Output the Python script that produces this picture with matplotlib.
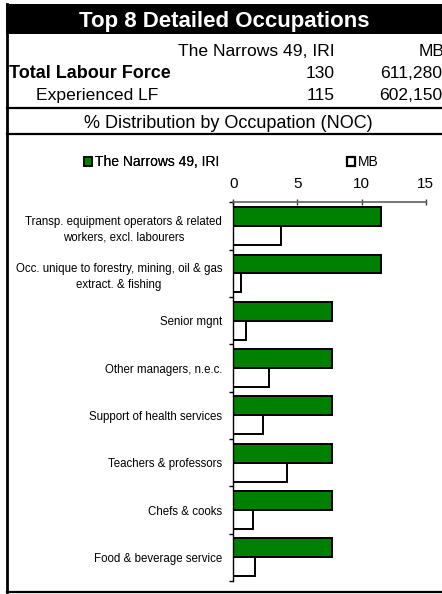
import numpy as np
from matplotlib import pyplot as plt
from matplotlib.patches import Patch, Rectangle
from matplotlib.lines import Line2D

plt.rcParams['font.family'] = ['Liberation Sans', 'DejaVu Sans']

W, H = 442, 594

categories = [
    "Transp. equipment operators & related\nworkers, excl. labourers",
    "Occ. unique to forestry, mining, oil & gas\nextract. & fishing",
    "Senior mgnt",
    "Other managers, n.e.c.",
    "Support of health services",
    "Teachers & professors",
    "Chefs & cooks",
    "Food & beverage service",
]
narrows = [11.5, 11.5, 7.7, 7.7, 7.7, 7.7, 7.7, 7.7]
mb = [3.7, 0.6, 1.0, 2.8, 2.3, 4.2, 1.5, 1.7]
series_names = ["The Narrows 49, IRI", "MB"]
table_rows = [
    ("Total Labour Force", "130", "611,280"),
    ("Experienced LF", "115", "602,150"),
]
xticks = [0, 5, 10, 15]


def fx(x):
    return x / W


def fy(y):
    return 1 - y / H


fig = plt.figure(figsize=(W / 100, H / 100), dpi=100)

# frame and header band
fig.add_artist(Rectangle((fx(6), fy(34)), fx(442) - fx(6), fy(4) - fy(34),
                         transform=fig.transFigure, facecolor="black", edgecolor="none"))
fig.add_artist(Line2D([fx(7.5), fx(7.5)], [fy(4), fy(592)], transform=fig.transFigure,
                      color="black", lw=2.0))
for yy in (592, 108, 134):
    fig.add_artist(Line2D([fx(6.5), fx(442)], [fy(yy), fy(yy)], transform=fig.transFigure,
                          color="black", lw=1.6))

fig.text(fx(224), fy(19 + 8), "Top 8 Detailed Occupations", color="white",
         fontsize=16, fontweight="bold", ha="center", va="baseline")

fig.text(fx(335), fy(50 + 6.4), series_names[0], fontsize=12.6, ha="right", va="baseline")
fig.text(fx(444), fy(50 + 6.4), series_names[1], fontsize=12.6, ha="right", va="baseline")
row_y = [72, 94]
for (lab, v1, v2), yy in zip(table_rows, row_y):
    if lab.startswith("Total"):
        fig.text(fx(9), fy(yy + 6.4), lab, fontsize=13, fontweight="bold", ha="left", va="baseline")
    else:
        fig.text(fx(36), fy(yy + 6.4), lab, fontsize=12.6, ha="left", va="baseline")
    fig.text(fx(335), fy(yy + 6.4), v1, fontsize=12.6, ha="right", va="baseline")
    fig.text(fx(442), fy(yy + 6.4), v2, fontsize=12.6, ha="right", va="baseline")

fig.text(fx(228), fy(122 + 6.4), "% Distribution by Occupation (NOC)", fontsize=13,
         ha="center", va="baseline")

# chart
ax_top, ax_bot = 202.5, 581
ax = fig.add_axes([fx(233.3), fy(ax_bot), fx(425.7) - fx(233.3), fy(ax_top) - fy(ax_bot)])
idx = np.arange(len(categories))
ax.barh(idx + 0.3, narrows, height=0.4, color="#008000", edgecolor="black", linewidth=1.4)
ax.barh(idx + 0.7, mb, height=0.4, color="white", edgecolor="black", linewidth=1.4)
ax.set_xlim(0, 15)
ax.set_ylim(len(categories), 0)

ax.xaxis.tick_top()
ax.set_xticks(xticks)
ax.set_xticklabels([str(t) for t in xticks])
ax.tick_params(axis="x", direction="inout", length=5, width=1, color="#404040",
               labelsize=11, pad=6)
ax.set_yticks(np.arange(len(categories) + 1))
ax.set_yticklabels([])
ax.set_yticks(idx + 0.5, minor=True)
ax.set_yticklabels(categories, minor=True, fontsize=8.3, linespacing=1.4,
                   multialignment="center")
ax.tick_params(axis="y", which="major", direction="out", length=3, width=1)
ax.tick_params(axis="y", which="minor", length=0, pad=8)
for s in ("right", "bottom"):
    ax.spines[s].set_visible(False)
ax.spines["top"].set_color("#606060")
ax.spines["top"].set_linewidth(1.2)
ax.spines["left"].set_linewidth(1.0)

# legend
leg1 = fig.legend(handles=[Patch(facecolor="#008000", edgecolor="black", linewidth=1.2,
                                 label=series_names[0])],
                  loc="center left", bbox_to_anchor=(fx(84), fy(162)), frameon=False,
                  fontsize=10, handlelength=0.6, handleheight=0.6, handletextpad=0.2,
                  borderpad=0, borderaxespad=0)
fig.add_artist(leg1)
fig.legend(handles=[Patch(facecolor="white", edgecolor="black", linewidth=1.6,
                          label=series_names[1])],
           loc="center left", bbox_to_anchor=(fx(347), fy(162)), frameon=False,
           fontsize=10, handlelength=0.6, handleheight=0.6, handletextpad=0.2,
           borderpad=0, borderaxespad=0)

fig.savefig("out.png", dpi=100)
